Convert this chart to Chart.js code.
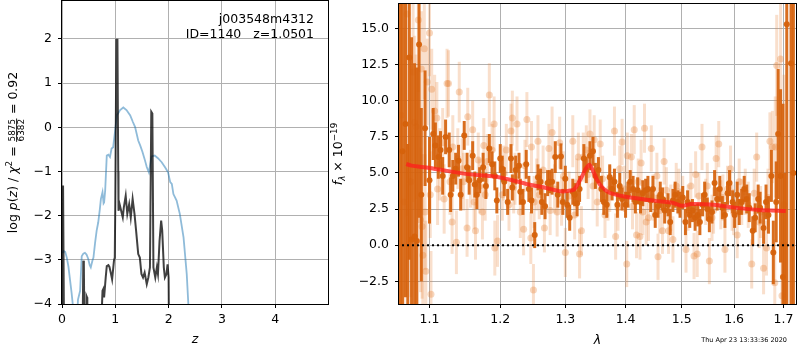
<!DOCTYPE html>
<html>
<head>
<meta charset="utf-8">
<script src="https://cdn.jsdelivr.net/npm/chart.js@4.4.1/dist/chart.umd.min.js"></script>
<style>
  body { margin: 0; background: #fff; }
  #wrap { position: relative; width: 800px; height: 350px; }
  #pzBox { position: absolute; left: 0; top: 0; width: 340px; height: 350px; }
  #specBox { position: absolute; left: 320px; top: 0; width: 480px; height: 350px; }
</style>
</head>
<body>
<div id="wrap">
  <div id="pzBox"><canvas id="pzChart"></canvas></div>
  <div id="specBox"><canvas id="specChart"></canvas></div>
</div>
<script>
// ---- left panel: p(z) ----
const zTicks = [0, 1, 2, 3, 4];
const logpTicks = [-4, -3, -2, -1, 0, 1, 2];

// blue curve (chi2 based)
const chiZ = [0.01, 0.03, 0.06, 0.09, 0.12, 0.15, 0.18, 0.21, 0.24, 0.27, 0.30, 0.34, 0.37, 0.40, 0.43, 0.46, 0.49, 0.52, 0.54, 0.57, 0.59, 0.62, 0.65, 0.68, 0.71, 0.73, 0.76, 0.78, 0.79, 0.81, 0.84, 0.87, 0.90, 0.93, 0.96, 0.99, 1.03, 1.06, 1.09, 1.15, 1.21, 1.28, 1.33, 1.37, 1.43, 1.47, 1.51, 1.55, 1.59, 1.63, 1.66, 1.68, 1.74, 1.80, 1.87, 1.93, 1.99, 2.03, 2.06, 2.09, 2.15, 2.21, 2.28, 2.34, 2.37, 2.40];
const chiLogp = [-2.85, -2.80, -2.82, -2.95, -3.15, -3.45, -3.75, -4.1, -5.0, -4.6, -3.9, -3.7, -2.92, -2.86, -2.84, -2.88, -2.97, -3.12, -3.17, -3.02, -2.95, -2.62, -2.34, -2.15, -1.85, -1.62, -1.47, -1.72, -1.70, -1.43, -0.64, -0.62, -0.67, -0.48, -0.45, -0.14, 0.27, 0.33, 0.39, 0.45, 0.39, 0.27, 0.12, 0.01, -0.30, -0.42, -0.56, -0.72, -0.90, -1.02, -0.80, -0.66, -0.64, -0.70, -0.79, -0.90, -1.02, -1.24, -1.28, -1.51, -1.66, -1.96, -2.49, -3.32, -4.0, -5.0];

// dark curve log p(z)
const pzZ = [0.01, 0.02, 0.035, 0.045, 0.38, 0.39, 0.40, 0.41, 0.42, 0.455, 0.46, 0.47, 0.475, 0.72, 0.745, 0.76, 0.775, 0.79, 0.82, 0.84, 0.87, 0.89, 0.92, 0.94, 0.975, 0.99, 1.0, 1.02, 1.04, 1.055, 1.06, 1.08, 1.11, 1.14, 1.16, 1.195, 1.225, 1.26, 1.29, 1.325, 1.36, 1.39, 1.43, 1.46, 1.49, 1.52, 1.55, 1.59, 1.62, 1.65, 1.675, 1.695, 1.715, 1.75, 1.78, 1.80, 1.83, 1.86, 1.88, 1.91, 1.93, 1.96, 1.98, 2.0, 2.015];
const pzLogp = [-6, -1.32, -1.32, -6, -6, -4.2, -3.02, -3.1, -4.5, -4.5, -3.82, -3.85, -4.5, -6, -4.2, -3.7, -3.66, -3.85, -3.4, -3.14, -3.12, -3.16, -3.32, -3.44, -3.02, -2.95, -1.66, 1.98, 1.98, -1.0, -1.89, -1.74, -1.89, -2.04, -1.81, -1.55, -1.96, -1.74, -2.04, -1.62, -1.96, -2.34, -2.87, -2.95, -3.32, -3.40, -3.29, -3.55, -3.40, -3.17, 0.35, 0.31, -3.17, -3.40, -3.17, -3.32, -2.57, -2.11, -2.34, -3.17, -3.40, -3.32, -3.10, -3.40, -6];

// ---- right panel: spectrum ----
const lamTicks = [1.1, 1.2, 1.3, 1.4, 1.5, 1.6, 1.7];
const fluxTicks = [-2.5, 0, 2.5, 5, 7.5, 10, 12.5, 15];

const darkWave = [1.061, 1.064, 1.068, 1.071, 1.073, 1.076, 1.080, 1.083, 1.086, 1.089, 1.094, 1.100, 1.105, 1.108, 1.112, 1.115, 1.118, 1.122, 1.127, 1.129, 1.132, 1.136, 1.140, 1.143, 1.148, 1.152, 1.155, 1.160, 1.163, 1.166, 1.170, 1.175, 1.179, 1.184, 1.188, 1.192, 1.195, 1.200, 1.203, 1.206, 1.211, 1.216, 1.218, 1.223, 1.228, 1.230, 1.234, 1.239, 1.243, 1.247, 1.252, 1.257, 1.261, 1.263, 1.268, 1.272, 1.275, 1.279, 1.284, 1.288, 1.293, 1.296, 1.300, 1.303, 1.307, 1.312, 1.315, 1.319, 1.323, 1.330, 1.334, 1.340, 1.345, 1.349, 1.354, 1.359, 1.363, 1.368, 1.373, 1.377, 1.381, 1.386, 1.390, 1.394, 1.400, 1.404, 1.408, 1.413, 1.417, 1.421, 1.426, 1.430, 1.435, 1.439, 1.444, 1.448, 1.452, 1.457, 1.461, 1.465, 1.469, 1.475, 1.479, 1.484, 1.488, 1.493, 1.497, 1.502, 1.507, 1.511, 1.515, 1.520, 1.525, 1.530, 1.534, 1.539, 1.543, 1.548, 1.552, 1.557, 1.562, 1.567, 1.572, 1.577, 1.582, 1.587, 1.591, 1.597, 1.601, 1.606, 1.610, 1.615, 1.620, 1.625, 1.630, 1.637, 1.642, 1.648, 1.652, 1.659, 1.664, 1.669, 1.675, 1.679, 1.685, 1.689, 1.694, 1.699, 1.703, 1.707, 1.716, 1.721];
const darkFlux = [20, 6.5, 8.4, -9, 13.0, 0.4, 0.6, 0.3, 13.9, 3.5, 8.1, 4.5, 7.7, 6.9, 6.1, 6.6, 4.8, 7.5, 6.6, 3.5, 4.8, 5.3, 5.85, 3.5, 7.6, 5.4, 4.5, 6.2, 4.2, 3.5, 4.5, 5.4, 4.1, 6.7, 5.6, 4.8, 3.1, 6.0, 5.3, 4.4, 3.0, 6.0, 4.0, 5.2, 5.5, 3.7, 3.0, 5.6, 3.9, 3.1, 0.7, 4.7, 4.4, 3.0, 2.7, 4.3, 4.4, 4.4, 6.1, 3.5, 6.15, 3.0, 4.6, 2.8, 1.9, 3.7, 3.5, 2.9, 3.9, 6.0, 5.2, 6.2, 6.5, 4.8, 5.2, 3.9, 3.0, 2.8, 4.7, 3.9, 4.4, 2.8, 4.1, 3.2, 2.8, 3.5, 4.4, 3.9, 3.0, 3.8, 3.0, 3.6, 3.8, 3.9, 3.1, 3.9, 2.1, 2.7, 3.5, 3.2, 2.4, 2.8, 1.6, 3.1, 3.5, 3.0, 2.8, 3.3, 1.6, 3.0, 2.1, 2.4, 1.9, 2.1, 1.6, 2.8, 3.5, 2.5, 1.8, 2.3, 4.3, 3.2, 3.9, 2.6, 2.1, 3.6, 4.3, 3.0, 2.1, 3.5, 2.3, 3.0, 3.9, 3.2, 2.6, 1.0, 1.9, 3.2, 2.6, 1.2, 3.0, 2.1, 4.8, -0.5, 3.0, 7.7, 4.8, -2.2, -9, 15.3, 12.6, 5];
const darkErr = [25, 12, 12, 16, 14, 14, 12, 12, 12, 6, 4, 3, 1.8, 1.6, 1.5, 1.3, 1.3, 1.2, 1.2, 1.2, 1.1, 1.1, 1.1, 1.1, 1.0, 1.0, 1.0, 1.0, 0.9, 1.0, 0.9, 1.0, 0.9, 1.0, 0.9, 1.0, 0.9, 1.0, 0.9, 1.0, 0.9, 1.0, 0.9, 1.0, 0.9, 0.9, 0.9, 1.0, 0.9, 0.9, 0.9, 0.9, 0.9, 0.9, 0.9, 0.9, 0.8, 0.9, 1.1, 0.9, 0.9, 0.9, 0.9, 0.9, 0.9, 0.9, 0.8, 0.9, 0.9, 1.0, 0.9, 1.0, 1.0, 0.9, 0.9, 0.9, 0.9, 0.9, 0.9, 0.8, 0.9, 0.9, 0.9, 0.8, 0.9, 0.9, 0.8, 0.9, 0.8, 0.9, 0.8, 0.9, 0.8, 0.9, 0.8, 0.9, 0.9, 0.8, 0.9, 0.8, 0.9, 0.8, 0.9, 0.8, 0.9, 0.8, 0.9, 0.8, 0.9, 0.8, 0.9, 0.8, 0.9, 0.8, 0.9, 0.8, 0.9, 0.8, 0.9, 0.8, 0.9, 0.8, 0.9, 0.8, 0.9, 0.8, 0.9, 0.8, 0.9, 0.9, 0.9, 0.9, 0.9, 1.0, 1.0, 1.0, 1.0, 1.0, 1.1, 1.1, 1.2, 1.3, 1.8, 2.2, 2.8, 4.5, 6, 12, 14, 20, 20, 25];

const lightWave = [1.062, 1.066, 1.070, 1.075, 1.078, 1.080, 1.082, 1.085, 1.088, 1.089, 1.090, 1.091, 1.093, 1.094, 1.095, 1.097, 1.100, 1.101, 1.102, 1.103, 1.107, 1.110, 1.111, 1.114, 1.118, 1.120, 1.124, 1.126, 1.128, 1.131, 1.132, 1.137, 1.139, 1.141, 1.145, 1.147, 1.152, 1.153, 1.157, 1.160, 1.162, 1.164, 1.168, 1.170, 1.174, 1.176, 1.178, 1.181, 1.184, 1.188, 1.191, 1.192, 1.196, 1.203, 1.205, 1.209, 1.213, 1.216, 1.218, 1.220, 1.222, 1.225, 1.230, 1.235, 1.237, 1.240, 1.246, 1.247, 1.250, 1.251, 1.255, 1.257, 1.259, 1.265, 1.267, 1.274, 1.276, 1.279, 1.283, 1.287, 1.291, 1.294, 1.297, 1.300, 1.306, 1.312, 1.315, 1.318, 1.321, 1.323, 1.326, 1.329, 1.334, 1.337, 1.340, 1.345, 1.347, 1.352, 1.357, 1.361, 1.365, 1.370, 1.373, 1.381, 1.383, 1.387, 1.390, 1.394, 1.398, 1.402, 1.403, 1.410, 1.412, 1.415, 1.419, 1.422, 1.425, 1.427, 1.430, 1.433, 1.436, 1.440, 1.445, 1.448, 1.455, 1.457, 1.460, 1.465, 1.468, 1.472, 1.476, 1.480, 1.484, 1.490, 1.495, 1.502, 1.508, 1.512, 1.517, 1.523, 1.526, 1.529, 1.532, 1.538, 1.545, 1.548, 1.552, 1.557, 1.560, 1.565, 1.570, 1.574, 1.578, 1.582, 1.587, 1.593, 1.596, 1.599, 1.606, 1.610, 1.615, 1.622, 1.628, 1.635, 1.640, 1.645, 1.650, 1.653, 1.659, 1.665, 1.668, 1.672, 1.677, 1.682, 1.683, 1.686, 1.694, 1.697, 1.701];
const lightFlux = [9, 3, 16, 4.4, 12, 8.5, 8.2, 15.6, 1.75, 12.2, 1.3, -0.7, 13.6, 2.3, -1.8, 11.3, 14.7, 3.5, -3.4, 10.8, 9.3, 8.8, 3.9, 5.6, 7.1, 3.2, 11.2, 11.2, 4.4, 1.6, 6.8, 0.2, 6.0, 10.6, 5.3, 4.4, 1.2, 8.9, 4.6, 8.0, 3.0, 1.0, 5.9, 4.1, 2.3, 6.9, 3.5, 5.8, 10.4, 6.6, 8.4, -0.2, 0.3, 3.5, 5.0, 6.6, 2.8, 7.9, 8.8, 4.0, 4.6, 8.4, 2.3, 1.1, 5.5, 8.7, 0.5, 6.8, -3.1, 3.0, 4.2, 7.2, 3.5, 5.2, 1.2, 6.7, 2.4, 7.8, 3.9, 2.3, 7.1, 3.05, 4.8, -0.5, 3.4, 7.2, 2.1, 4.3, 6.1, -0.6, 1.0, 6.1, 6.6, 4.9, 7.7, 4.1, 7.3, 3.0, 7.0, 4.6, 2.1, 3.3, 3.9, 7.9, 0.6, 2.6, 5.3, 7.15, 3.9, -1.3, 6.2, 6.1, 2.7, 8.0, 0.7, 4.4, 0.6, 5.7, 2.3, 8.1, 1.6, 1.9, 6.7, 3.3, 4.8, -0.8, 2.4, 1.0, 5.8, 3.8, 1.0, 2.6, 0.4, 4.1, 3.7, 3.2, -0.3, 2.6, 4.1, -0.75, 4.9, -0.6, 3.4, 6.8, 3.0, 4.1, -1.1, 1.9, 2.4, 6.0, 7.0, 2.8, 3.3, -0.3, 3.9, 5.3, 2.6, 2.3, 0.7, 4.4, 3.0, 3.7, 2.8, -1.3, 3.6, 6.1, 1.6, 2.3, -1.6, -0.2, 3.3, 7.2, 6.8, -2.6, 6.8, 12.45, 12.9, -3.5, 2.8];
const lightErr = [14, 12, 14, 8, 9, 6, 5, 5, 5, 4, 5, 4, 3.5, 4, 3.5, 3, 3, 3, 3, 2.8, 2.5, 2.5, 2.5, 2.5, 2.4, 2.4, 2.4, 2.3, 2.3, 2.2, 2.2, 2.2, 2.1, 2.1, 2.1, 2.0, 2.0, 2.0, 2.0, 2.0, 1.9, 2.0, 1.9, 1.9, 1.9, 1.9, 1.8, 1.9, 2.2, 1.8, 1.9, 1.9, 1.8, 1.8, 1.9, 1.8, 1.8, 1.9, 1.9, 1.8, 1.8, 1.9, 1.8, 1.8, 1.8, 1.9, 1.8, 1.8, 1.8, 1.8, 1.8, 1.8, 1.7, 1.7, 1.7, 1.7, 1.7, 1.8, 1.7, 1.7, 1.8, 1.7, 1.7, 1.7, 1.7, 1.8, 1.7, 1.7, 1.7, 1.7, 1.7, 1.7, 1.7, 1.7, 1.7, 1.7, 1.7, 1.7, 1.7, 1.6, 1.6, 1.6, 1.6, 1.7, 1.6, 1.6, 1.6, 1.6, 1.6, 1.6, 1.6, 1.6, 1.6, 1.7, 1.6, 1.6, 1.6, 1.6, 1.6, 1.7, 1.6, 1.6, 1.6, 1.6, 1.6, 1.6, 1.6, 1.6, 1.6, 1.6, 1.6, 1.6, 1.6, 1.6, 1.6, 1.6, 1.6, 1.6, 1.6, 1.6, 1.6, 1.6, 1.6, 1.6, 1.6, 1.6, 1.6, 1.6, 1.6, 1.6, 1.6, 1.7, 1.6, 1.6, 1.6, 1.6, 1.6, 1.6, 1.6, 1.6, 1.6, 1.6, 1.6, 1.7, 1.7, 1.7, 1.8, 1.8, 1.8, 1.9, 2.0, 2.0, 2.5, 3, 3.5, 3.5, 5, 6, 9, 8];

// red model
const modelWave = [1.069, 1.076, 1.100, 1.150, 1.198, 1.238, 1.270, 1.293, 1.311, 1.316, 1.322, 1.328, 1.333, 1.339, 1.346, 1.352, 1.360, 1.368, 1.377, 1.400, 1.452, 1.483, 1.500, 1.518, 1.555, 1.598, 1.650, 1.705];
const modelFlux = [5.62, 5.51, 5.35, 4.94, 4.71, 4.26, 3.96, 3.73, 3.80, 3.95, 4.37, 4.85, 5.28, 5.58, 5.05, 4.5, 4.03, 3.75, 3.57, 3.35, 3.07, 2.94, 2.73, 2.85, 2.82, 2.62, 2.44, 2.37];

Chart.defaults.font.family = '"DejaVu Sans"';
Chart.defaults.font.size = 12.5;
Chart.defaults.color = '#000';

const toXY = (xs, ys) => xs.map((v, i) => ({ x: v, y: ys[i] }));
const minus = s => String(s).replace('-', '\u2212');

// draws a rotated label made of pieces (normal/italic/sup/sub/fraction)
function richLabel(ctx, parts, cx, cy) {
    ctx.save();
    ctx.translate(cx, cy);
    ctx.rotate(-Math.PI / 2);
    ctx.fillStyle = '#000';
    ctx.textBaseline = 'alphabetic';
    let total = 0;
    for (const p of parts) {
        ctx.font = p.font;
        p.w = p.frac
            ? Math.max(ctx.measureText(p.frac[0]).width, ctx.measureText(p.frac[1]).width) + 2
            : ctx.measureText(p.t).width;
        total += p.w;
    }
    let x = -total / 2;
    for (const p of parts) {
        ctx.font = p.font;
        if (p.frac) {
            ctx.textAlign = 'center';
            ctx.fillText(p.frac[0], x + p.w / 2, -1.5);
            ctx.fillText(p.frac[1], x + p.w / 2, 7.5);
            ctx.fillRect(x + 0.5, -0.3, p.w - 1, 0.9);
        } else {
            ctx.textAlign = 'left';
            ctx.fillText(p.t, x, p.dy || 0);
        }
        x += p.w;
    }
    ctx.restore();
}

const N = '12.5px "DejaVu Sans"';
const I = 'italic 12.5px "DejaVu Sans"';
const S = '8.8px "DejaVu Sans"';
const IS = 'italic 8.8px "DejaVu Sans"';

function frame(chart) {
    const { ctx, chartArea: a } = chart;
    ctx.save();
    ctx.strokeStyle = '#000';
    ctx.lineWidth = 1;
    ctx.strokeRect(Math.round(a.left) - 0.5, Math.round(a.top) - 0.5,
        Math.round(a.right - a.left) + 1, Math.round(a.bottom - a.top) + 1);
    ctx.restore();
}

const pzText = {
    id: 'pzText',
    afterDraw(chart) {
        const { ctx, chartArea: a } = chart;
        frame(chart);
        ctx.save();
        ctx.fillStyle = '#000';
        ctx.font = N;
        ctx.textAlign = 'right';
        ctx.textBaseline = 'middle';
        ctx.fillText('j003548m4312', 314, 20);
        ctx.fillText('ID=1140   z=1.0501', 314, 35);
        ctx.textAlign = 'center';
        ctx.font = I;
        ctx.fillText('z', (a.left + a.right) / 2, 340);
        ctx.restore();
        richLabel(ctx, [
            { t: 'log ', font: N }, { t: 'p', font: I }, { t: '(', font: N }, { t: 'z', font: I },
            { t: ') / ', font: N }, { t: '\u03c7', font: I }, { t: '2', font: S, dy: -5 },
            { t: ' = ', font: N }, { frac: ['5875', '6382'], font: S }, { t: ' = 0.92', font: N }
        ], 16.5, (a.top + a.bottom) / 2);
    }
};

const errorBars = {
    id: 'errorBars',
    beforeDatasetDraw(chart, args) {
        const ds = chart.data.datasets[args.index];
        if (!ds.errs) return;
        const { ctx, chartArea: a, scales: { x, y } } = chart;
        ctx.save();
        ctx.beginPath();
        ctx.rect(a.left, a.top, a.right - a.left, a.bottom - a.top);
        ctx.clip();
        ctx.strokeStyle = ds.errColor;
        ctx.lineWidth = ds.errWidth;
        ds.data.forEach((p, i) => {
            const px = x.getPixelForValue(p.x);
            ctx.beginPath();
            ctx.moveTo(px, y.getPixelForValue(p.y - ds.errs[i]));
            ctx.lineTo(px, y.getPixelForValue(p.y + ds.errs[i]));
            ctx.stroke();
        });
        ctx.restore();
    }
};

const specText = {
    id: 'specText',
    afterDraw(chart) {
        const { ctx, chartArea: a } = chart;
        frame(chart);
        ctx.save();
        ctx.fillStyle = '#000';
        ctx.textAlign = 'center';
        ctx.textBaseline = 'middle';
        ctx.font = I;
        ctx.fillText('\u03bb', (a.left + a.right) / 2, 341);
        ctx.font = '6.5px "DejaVu Sans"';
        ctx.textAlign = 'right';
        ctx.fillText('Thu Apr 23 13:33:36 2020', 467, 340);
        ctx.restore();
        richLabel(ctx, [
            { t: 'f', font: I }, { t: '\u03bb', font: IS, dy: 3 },
            { t: ' \u00d7 10', font: N }, { t: '\u221219', font: S, dy: -5 }
        ], 21.5, (a.top + a.bottom) / 2);
    }
};

const gridOpts = { color: '#b0b0b0', lineWidth: 1, tickColor: '#000', tickLength: 4, drawTicks: true };
// keep the plot box where the axis sizes put it
const fixY = w => s => { s.width = w; s.paddingTop = 0; s.paddingBottom = 0; };
const fixX = h => s => { s.height = h; s.paddingLeft = 0; s.paddingRight = 0; };

// Charts
const pzCtx = document.getElementById('pzChart').getContext('2d');
const pzChart = new Chart(pzCtx, {
    type: 'scatter',
    data: {
        datasets: [{
            data: toXY(pzZ, pzLogp),
            showLine: true,
            borderColor: 'rgba(0,0,0,0.75)',
            borderWidth: 2,
            pointRadius: 0,
            order: 1
        }, {
            data: toXY(chiZ, chiLogp),
            showLine: true,
            borderColor: 'rgba(31,119,180,0.5)',
            borderWidth: 1.8,
            pointRadius: 0,
            order: 2
        }]
    },
    options: {
        animation: false,
        responsive: true,
        maintainAspectRatio: false,
        events: [],
        layout: { padding: { top: 1, right: 12, left: 0, bottom: 0 } },
        plugins: { legend: { display: false }, tooltip: { enabled: false } },
        scales: {
            x: {
                type: 'linear', min: 0, max: 4.99,
                afterBuildTicks: s => { s.ticks = zTicks.map(v => ({ value: v })); },
                afterFit: fixX(46),
                ticks: { padding: 4, autoSkip: false, maxRotation: 0, callback: v => minus(v) },
                grid: gridOpts,
                border: { display: false }
            },
            y: {
                type: 'linear', min: -4, max: 2.86,
                afterBuildTicks: s => { s.ticks = logpTicks.map(v => ({ value: v })); },
                afterFit: fixY(62),
                ticks: { padding: 6, autoSkip: false, callback: v => minus(v) },
                grid: gridOpts,
                border: { display: false }
            }
        }
    },
    plugins: [pzText]
});

const specCtx = document.getElementById('specChart').getContext('2d');
const specChart = new Chart(specCtx, {
    type: 'scatter',
    data: {
        datasets: [{
            data: [{ x: 1.0, y: 0 }, { x: 1.8, y: 0 }],
            showLine: true,
            borderColor: '#000',
            borderWidth: 2,
            borderDash: [2, 3],
            pointRadius: 0,
            order: 1
        }, {
            data: toXY(modelWave, modelFlux),
            showLine: true,
            borderColor: 'rgba(255,30,30,0.75)',
            borderWidth: 4,
            tension: 0.25,
            pointRadius: 0,
            order: 2
        }, {
            data: toXY(darkWave, darkFlux),
            errs: darkErr,
            errColor: 'rgba(214,98,12,0.92)',
            errWidth: 3,
            pointRadius: 3,
            pointBorderWidth: 0,
            backgroundColor: 'rgba(214,98,12,0.95)',
            order: 3
        }, {
            data: toXY(lightWave, lightFlux),
            errs: lightErr,
            errColor: 'rgba(230,126,50,0.25)',
            errWidth: 3,
            pointRadius: 3.5,
            pointBorderWidth: 0,
            backgroundColor: 'rgba(230,126,50,0.32)',
            order: 4
        }]
    },
    options: {
        animation: false,
        responsive: true,
        maintainAspectRatio: false,
        events: [],
        layout: { padding: { top: 1, right: 1, left: 0, bottom: 0 } },
        plugins: { legend: { display: false }, tooltip: { enabled: false } },
        scales: {
            x: {
                type: 'logarithmic', min: 1.0595, max: 1.7265,
                afterBuildTicks: s => { s.ticks = lamTicks.map(v => ({ value: v })); },
                afterFit: fixX(46),
                ticks: { padding: 4, autoSkip: false, maxRotation: 0, callback: v => Number(v).toFixed(1) },
                grid: gridOpts,
                border: { display: false }
            },
            y: {
                type: 'linear', min: -4.07, max: 16.7,
                afterBuildTicks: s => { s.ticks = fluxTicks.map(v => ({ value: v })); },
                afterFit: fixY(79),
                ticks: { padding: 6, autoSkip: false, callback: v => minus(Number(v).toFixed(1)) },
                grid: gridOpts,
                border: { display: false }
            }
        }
    },
    plugins: [errorBars, specText]
});
</script>
</body>
</html>
